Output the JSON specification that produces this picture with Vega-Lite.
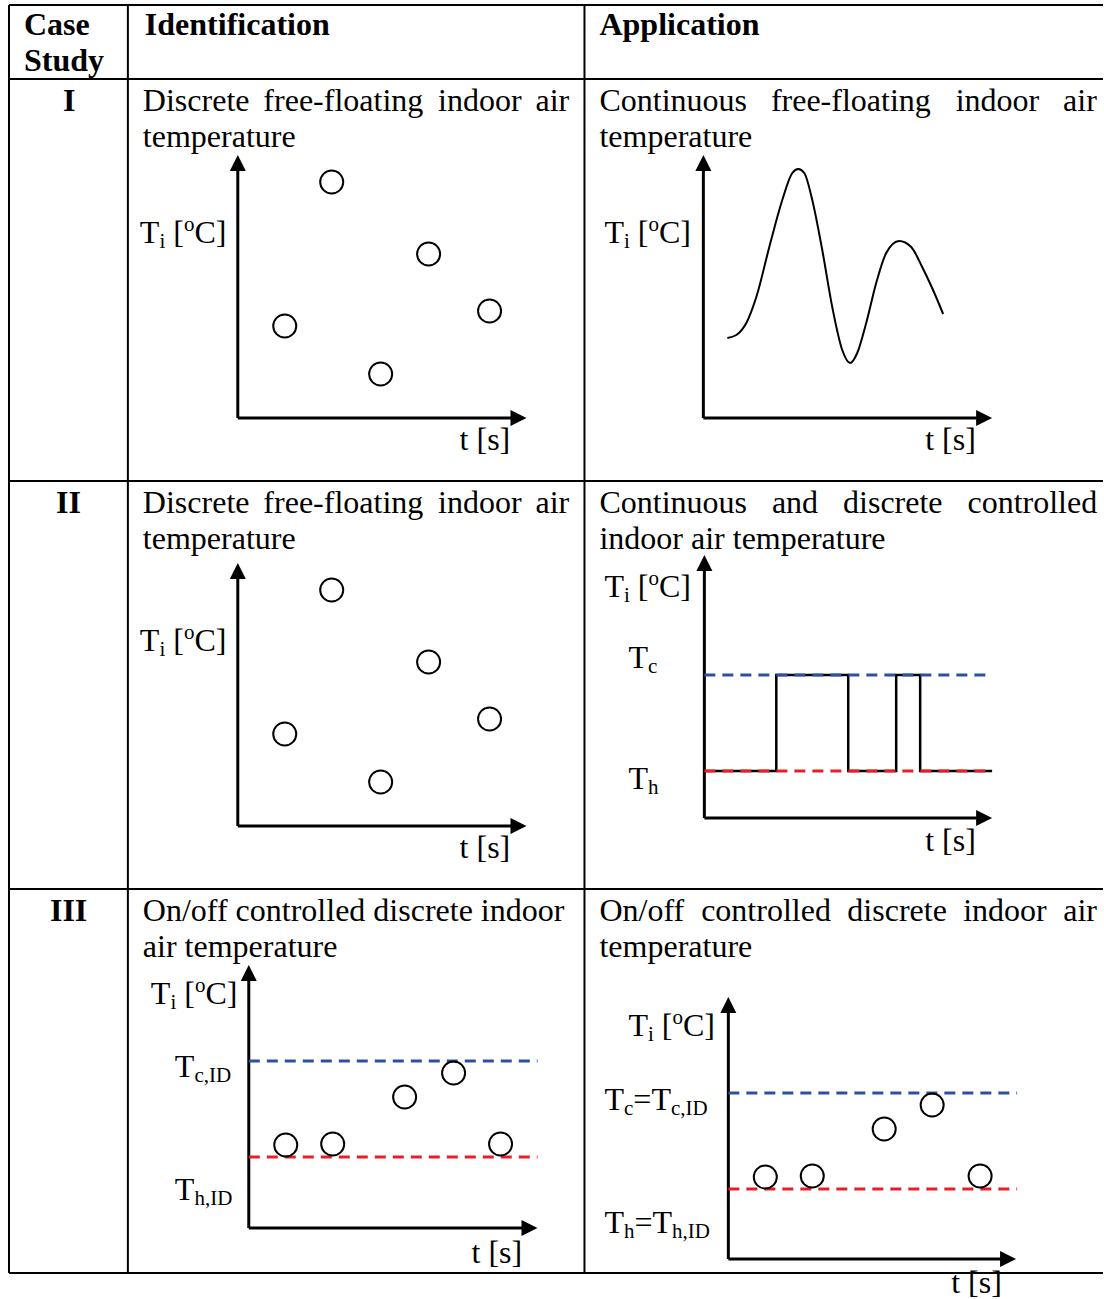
{
"$schema": "https://vega.github.io/schema/vega-lite/v6.json",
"width": 1104, "height": 1299,
"autosize": {"type": "fit", "contains": "padding"},
"padding": 0,
"background": "white",
"config": {"view": {"stroke": null}},
"datasets": {
"grid": [
{"x":9,"y":5,"x2":1104,"y2":5},{"x":9,"y":79,"x2":1104,"y2":79},{"x":9,"y":481,"x2":1104,"y2":481},{"x":9,"y":889,"x2":1104,"y2":889},{"x":9,"y":1273,"x2":1104,"y2":1273},
{"x":9,"y":5,"x2":9,"y2":1273},{"x":128,"y":5,"x2":128,"y2":1273},{"x":585,"y":5,"x2":585,"y2":1273}
],
"axes": [
{"x":238,"y":418,"x2":238,"y2":165},{"x":238,"y":418,"x2":518,"y2":418},
{"x":704,"y":418,"x2":704,"y2":165},{"x":704,"y":418,"x2":984,"y2":418},
{"x":238,"y":826,"x2":238,"y2":573},{"x":238,"y":826,"x2":518,"y2":826},
{"x":705,"y":818,"x2":705,"y2":565},{"x":705,"y":818,"x2":984,"y2":818},
{"x":249,"y":1228,"x2":249,"y2":975},{"x":249,"y":1228,"x2":529,"y2":1228},
{"x":729,"y":1259,"x2":729,"y2":1007},{"x":729,"y":1259,"x2":1008,"y2":1259}
],
"arrows": [
{"x":238,"y":155,"d":"up"},{"x":704,"y":155,"d":"up"},{"x":238,"y":563,"d":"up"},{"x":705,"y":555,"d":"up"},{"x":249,"y":965,"d":"up"},{"x":729,"y":997,"d":"up"},
{"x":527,"y":418,"d":"right"},{"x":993,"y":418,"d":"right"},{"x":527,"y":826,"d":"right"},{"x":993,"y":818,"d":"right"},{"x":538,"y":1228,"d":"right"},{"x":1017,"y":1259,"d":"right"}
],
"dash": [
{"x":705,"y":675,"x2":993,"y2":675,"c":"blue"},{"x":705,"y":771,"x2":993,"y2":771,"c":"red"},
{"x":249,"y":1061,"x2":538,"y2":1061,"c":"blue"},{"x":249,"y":1157,"x2":538,"y2":1157,"c":"red"},
{"x":729,"y":1093,"x2":1018,"y2":1093,"c":"blue"},{"x":729,"y":1189,"x2":1018,"y2":1189,"c":"red"}
],
"pts": [
{"x":332,"y":182},{"x":429,"y":254},{"x":490,"y":311},{"x":285,"y":326},{"x":381,"y":374},
{"x":332,"y":590},{"x":429,"y":662},{"x":490,"y":719},{"x":285,"y":734},{"x":381,"y":782},
{"x":286,"y":1145},{"x":333,"y":1144},{"x":405,"y":1097},{"x":454,"y":1073},{"x":501,"y":1144},
{"x":766,"y":1177},{"x":813,"y":1176},{"x":885,"y":1129},{"x":933,"y":1105},{"x":981,"y":1176}
],
"curve": [
{"x":728,"y":338},{"x":737,"y":335},{"x":747,"y":323},{"x":757,"y":297},{"x":770,"y":247},{"x":783,"y":200},{"x":793,"y":173},{"x":799,"y":169},{"x":805,"y":173},{"x":813,"y":200},{"x":823,"y":250},{"x":833,"y":307},{"x":843,"y":350},{"x":851,"y":363},{"x":858,"y":353},{"x":867,"y":323},{"x":877,"y":283},{"x":887,"y":253},{"x":900,"y":241},{"x":912,"y":247},{"x":923,"y":267},{"x":933,"y":288},{"x":944,"y":314}
],
"step": [
{"i":0,"x":705,"y":771},{"i":1,"x":777,"y":771},{"i":2,"x":777,"y":675},{"i":3,"x":849,"y":675},{"i":4,"x":849,"y":771},{"i":5,"x":897,"y":771},{"i":6,"x":897,"y":675},{"i":7,"x":921,"y":675},{"i":8,"x":921,"y":771},{"i":9,"x":993,"y":771}
],
"text": [
{"k":"b","x":24,"y":35,"t":"Case"},{"k":"b","x":24,"y":71,"t":"Study"},{"k":"b","x":145,"y":35,"t":"Identification"},{"k":"b","x":600,"y":35,"t":"Application"},
{"k":"b","x":63,"y":111,"t":"I"},{"k":"b","x":56,"y":513,"t":"II"},{"k":"b","x":50,"y":921,"t":"III"},
{"k":"n","x":143,"y":111,"t":"Discrete"},{"k":"n","x":263.6,"y":111,"t":"free-floating"},{"k":"n","x":438.5,"y":111,"t":"indoor"},{"k":"n","x":536,"y":111,"t":"air"},{"k":"n","x":143,"y":147,"t":"temperature"},
{"k":"n","x":600,"y":111,"t":"Continuous"},{"k":"n","x":771.6,"y":111,"t":"free-floating"},{"k":"n","x":956.5,"y":111,"t":"indoor"},{"k":"n","x":1064,"y":111,"t":"air"},{"k":"n","x":600,"y":147,"t":"temperature"},
{"k":"n","x":143,"y":513,"t":"Discrete"},{"k":"n","x":263.6,"y":513,"t":"free-floating"},{"k":"n","x":438.5,"y":513,"t":"indoor"},{"k":"n","x":536,"y":513,"t":"air"},{"k":"n","x":143,"y":549,"t":"temperature"},
{"k":"n","x":600,"y":513,"t":"Continuous"},{"k":"n","x":772.6,"y":513,"t":"and"},{"k":"n","x":843.8,"y":513,"t":"discrete"},{"k":"n","x":968.3,"y":513,"t":"controlled"},{"k":"n","x":600,"y":549,"t":"indoor air temperature"},
{"k":"n","x":143,"y":921,"t":"On/off controlled discrete indoor"},{"k":"n","x":143,"y":957,"t":"air temperature"},
{"k":"n","x":600,"y":921,"t":"On/off"},{"k":"n","x":701.8,"y":921,"t":"controlled"},{"k":"n","x":848.1,"y":921,"t":"discrete"},{"k":"n","x":964.1,"y":921,"t":"indoor"},{"k":"n","x":1064.2,"y":921,"t":"air"},{"k":"n","x":600,"y":957,"t":"temperature"},

{"k":"n","x":140,"y":243,"t":"T"},{"k":"s","x":159.6,"y":243,"t":"i"},{"k":"n","x":173.4,"y":243,"t":"["},{"k":"p","x":184.1,"y":243,"t":"o"},{"k":"n","x":194.6,"y":243,"t":"C]"},
{"k":"n","x":605,"y":243,"t":"T"},{"k":"s","x":624.6,"y":243,"t":"i"},{"k":"n","x":638.4,"y":243,"t":"["},{"k":"p","x":649.1,"y":243,"t":"o"},{"k":"n","x":659.6,"y":243,"t":"C]"},
{"k":"n","x":140,"y":651,"t":"T"},{"k":"s","x":159.6,"y":651,"t":"i"},{"k":"n","x":173.4,"y":651,"t":"["},{"k":"p","x":184.1,"y":651,"t":"o"},{"k":"n","x":194.6,"y":651,"t":"C]"},
{"k":"n","x":605,"y":597,"t":"T"},{"k":"s","x":624.6,"y":597,"t":"i"},{"k":"n","x":638.4,"y":597,"t":"["},{"k":"p","x":649.1,"y":597,"t":"o"},{"k":"n","x":659.6,"y":597,"t":"C]"},
{"k":"n","x":151,"y":1004,"t":"T"},{"k":"s","x":170.6,"y":1004,"t":"i"},{"k":"n","x":184.4,"y":1004,"t":"["},{"k":"p","x":195.1,"y":1004,"t":"o"},{"k":"n","x":205.6,"y":1004,"t":"C]"},
{"k":"n","x":629,"y":1036,"t":"T"},{"k":"s","x":648.6,"y":1036,"t":"i"},{"k":"n","x":662.4,"y":1036,"t":"["},{"k":"p","x":673.1,"y":1036,"t":"o"},{"k":"n","x":683.6,"y":1036,"t":"C]"},

{"k":"n","x":629,"y":668,"t":"T"},{"k":"s","x":648.6,"y":668,"t":"c"},
{"k":"n","x":629,"y":789,"t":"T"},{"k":"s","x":648.6,"y":789,"t":"h"},
{"k":"n","x":175,"y":1077,"t":"T"},{"k":"s","x":194.6,"y":1077,"t":"c,ID"},
{"k":"n","x":175,"y":1200,"t":"T"},{"k":"s","x":194.6,"y":1200,"t":"h,ID"},
{"k":"n","x":605,"y":1110,"t":"T"},{"k":"s","x":624.6,"y":1110,"t":"c"},{"k":"n","x":633.9,"y":1110,"t":"="},{"k":"n","x":652,"y":1110,"t":"T"},{"k":"s","x":671.6,"y":1110,"t":"c,ID"},
{"k":"n","x":605,"y":1233,"t":"T"},{"k":"s","x":624.6,"y":1233,"t":"h"},{"k":"n","x":635.1,"y":1233,"t":"="},{"k":"n","x":653.1,"y":1233,"t":"T"},{"k":"s","x":672.7,"y":1233,"t":"h,ID"},

{"k":"n","x":460,"y":450,"t":"t [s]"},{"k":"n","x":926,"y":450,"t":"t [s]"},{"k":"n","x":460,"y":858,"t":"t [s]"},{"k":"n","x":926,"y":851,"t":"t [s]"},{"k":"n","x":472,"y":1263,"t":"t [s]"},{"k":"n","x":952,"y":1293,"t":"t [s]"}
]
},
"encoding": {
"x": {"field":"x","type":"quantitative","scale":{"domain":[0,1104],"nice":false,"zero":false},"axis":null},
"y": {"field":"y","type":"quantitative","scale":{"domain":[0,1299],"nice":false,"zero":false,"reverse":true},"axis":null}
},
"layer": [
{"data":{"name":"grid"},"mark":{"type":"rule","color":"black","strokeWidth":2},
 "encoding":{"x2":{"field":"x2"},"y2":{"field":"y2"}}},
{"data":{"name":"axes"},"mark":{"type":"rule","color":"black","strokeWidth":3},
 "encoding":{"x2":{"field":"x2"},"y2":{"field":"y2"}}},
{"data":{"name":"arrows"},"transform":[{"filter":"datum.d === 'up'"}],
 "mark":{"type":"point","shape":"M0,0L-1,2L1,2Z","filled":true,"color":"black","opacity":1,"size":256},"encoding":{}},
{"data":{"name":"arrows"},"transform":[{"filter":"datum.d === 'right'"}],
 "mark":{"type":"point","shape":"M0,0L-2,-1L-2,1Z","filled":true,"color":"black","opacity":1,"size":256},"encoding":{}},
{"data":{"name":"curve"},"mark":{"type":"line","color":"black","strokeWidth":2,"interpolate":"monotone"},"encoding":{}},
{"data":{"name":"step"},"mark":{"type":"line","color":"black","strokeWidth":2.5},
 "encoding":{"order":{"field":"i","type":"quantitative"}}},
{"data":{"name":"dash"},"mark":{"type":"rule","strokeWidth":3,"strokeDash":[11,7]},
 "encoding":{"x2":{"field":"x2"},"y2":{"field":"y2"},
  "color":{"field":"c","type":"nominal","scale":{"domain":["blue","red"],"range":["#2E50A0","#EC1C24"]},"legend":null}}},
{"data":{"name":"pts"},"mark":{"type":"point","shape":"circle","filled":false,"stroke":"black","strokeWidth":2,"opacity":1,"size":530},"encoding":{}},
{"data":{"name":"text"},"transform":[{"filter":"datum.k === 'b'"}],
 "mark":{"type":"text","align":"left","baseline":"alphabetic","font":"Liberation Serif","fontSize":32,"fontWeight":"bold","color":"black"},
 "encoding":{"text":{"field":"t"}}},
{"data":{"name":"text"},"transform":[{"filter":"datum.k === 'n'"}],
 "mark":{"type":"text","align":"left","baseline":"alphabetic","font":"Liberation Serif","fontSize":32,"color":"black"},
 "encoding":{"text":{"field":"t"}}},
{"data":{"name":"text"},"transform":[{"filter":"datum.k === 's'"}],
 "mark":{"type":"text","align":"left","baseline":"alphabetic","font":"Liberation Serif","fontSize":21,"dy":5,"color":"black"},
 "encoding":{"text":{"field":"t"}}},
{"data":{"name":"text"},"transform":[{"filter":"datum.k === 'p'"}],
 "mark":{"type":"text","align":"left","baseline":"alphabetic","font":"Liberation Serif","fontSize":21,"dy":-12,"color":"black"},
 "encoding":{"text":{"field":"t"}}}
]
}
